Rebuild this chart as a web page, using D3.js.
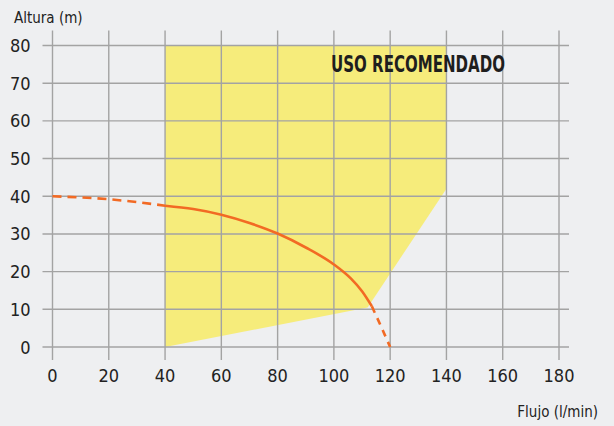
<!DOCTYPE html>
<html>
<head>
<meta charset="utf-8">
<script src="https://cdn.jsdelivr.net/npm/d3@7"></script>
<style>
  body { margin: 0; background: #eeeff1; }
  svg { display: block; font-family: "Liberation Sans Narrow", "DejaVu Sans Condensed", sans-serif; }
</style>
</head>
<body>
<div id="chart-area"></div>
<script>
// chart data
const xTicks = [0, 20, 40, 60, 80, 100, 120, 140, 160, 180]
const yTicks = [0, 10, 20, 30, 40, 50, 60, 70, 80]

// recommended zone polygon (flow, height)
const zoneFlow =   [40, 140, 140, 112, 40]
const zoneHeight = [80, 80, 42, 10.5, 0]

// pump curve: dashed start, solid middle, dashed end
const startFlow =   [0, 20, 40]
const startHeight = [40, 39.2, 37.5]
const curveFlow =   [40, 50, 60, 70, 80, 90, 100, 106, 110, 113.5]
const curveHeight = [37.5, 36.6, 35.1, 32.9, 30.1, 26.4, 21.9, 18.2, 14.8, 10.8]
const endFlow =   [113.5, 116.8, 120]
const endHeight = [10.8, 5.4, 0]

const MARGIN = { LEFT: 52.5, RIGHT: 55, TOP: 45.5, BOTTOM: 79 }
const WIDTH = 614 - MARGIN.LEFT - MARGIN.RIGHT
const HEIGHT = 426 - MARGIN.TOP - MARGIN.BOTTOM

const svg = d3.select("#chart-area").append("svg")
  .attr("width", 614)
  .attr("height", 426)

svg.append("rect").attr("width", 614).attr("height", 426).attr("fill", "#eeeff1")

const g = svg.append("g")
  .attr("transform", `translate(${MARGIN.LEFT}, ${MARGIN.TOP})`)

const x = d3.scaleLinear().domain([0, 180]).range([0, WIDTH])
const y = d3.scaleLinear().domain([0, 80]).range([HEIGHT, 0])

const zip = (xs, ys) => xs.map((v, i) => [v, ys[i]])

// yellow zone
g.append("path")
  .attr("d", d3.line().x(d => x(d[0])).y(d => y(d[1]))(zip(zoneFlow, zoneHeight)) + "Z")
  .attr("fill", "#f6ec7b")

// grid
const EXT = 10
g.append("g").selectAll("line").data(xTicks).enter().append("line")
  .attr("x1", d => x(d)).attr("x2", d => x(d))
  .attr("y1", -15).attr("y2", HEIGHT + 13)
  .attr("stroke", "#a3a3a3").attr("stroke-width", 1.4)
g.append("g").selectAll("line").data(yTicks).enter().append("line")
  .attr("y1", d => y(d)).attr("y2", d => y(d))
  .attr("x1", -EXT).attr("x2", WIDTH + EXT)
  .attr("stroke", "#a3a3a3").attr("stroke-width", 1.4)

// tick labels
g.append("g").selectAll("text").data(xTicks).enter().append("text")
  .attr("x", d => x(d)).attr("y", HEIGHT + 35)
  .attr("text-anchor", "middle").attr("font-size", "18px").attr("fill", "#222")
  .text(d => d)
g.append("g").selectAll("text").data(yTicks).enter().append("text")
  .attr("x", -22).attr("y", d => y(d) + 6.5)
  .attr("text-anchor", "end").attr("font-size", "18px").attr("fill", "#222")
  .text(d => d)

// pump curve
const line = d3.line().x(d => x(d[0])).y(d => y(d[1])).curve(d3.curveMonotoneX)
g.append("path").attr("d", line(zip(startFlow, startHeight)))
  .attr("fill", "none").attr("stroke", "#f26a24").attr("stroke-width", 2.6)
  .attr("stroke-dasharray", "9,6")
g.append("path").attr("d", line(zip(curveFlow, curveHeight)))
  .attr("fill", "none").attr("stroke", "#f26a24").attr("stroke-width", 2.6)
g.append("path").attr("d", d3.line().x(d => x(d[0])).y(d => y(d[1]))(zip(endFlow, endHeight)))
  .attr("fill", "none").attr("stroke", "#f26a24").attr("stroke-width", 2.6)
  .attr("stroke-dasharray", "7,6")

// labels
svg.append("text").attr("x", 14).attr("y", 23)
  .attr("font-size", "15px").attr("fill", "#222").text("Altura (m)")
svg.append("text").attr("x", 598).attr("y", 417)
  .attr("text-anchor", "end").attr("font-size", "15px").attr("fill", "#222").text("Flujo (l/min)")
svg.append("text").attr("x", 331).attr("y", 72)
  .attr("font-size", "23px").attr("font-weight", "bold").attr("fill", "#1e1e1e")
  .attr("textLength", 174).attr("lengthAdjust", "spacingAndGlyphs")
  .text("USO RECOMENDADO")
</script>
</body>
</html>
